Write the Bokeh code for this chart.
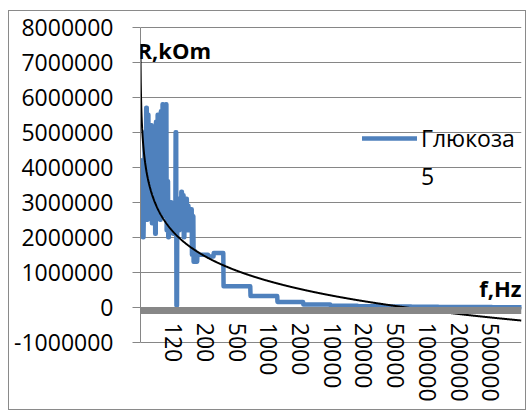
import numpy as np
from bokeh.plotting import figure
from bokeh.models import (Range1d, FixedTicker, NumeralTickFormatter, Label,
                          Legend, LegendItem, ColumnDataSource, LinearAxis)
from bokeh.embed import file_html
from bokeh.resources import INLINE

# ---------------- data ----------------
N_CATEGORIES = 1400          # number of measured frequencies (category axis)
noise_hold = 3               # each reading below covers 3 consecutive categories
noise_values = [             # R, low-frequency noisy part
    4.2e6, 2.4e6, 3.0e6, 2.0e6, 2.6e6, 5.0e6, 2.6e6,
    5.7e6, 2.5e6, 5.5e6, 2.6e6, 5.0e6,
    2.8e6, 5.2e6, 2.4e6, 4.8e6, 2.5e6, 5.0e6,
    2.1e6, 5.3e6, 2.6e6, 5.5e6, 2.8e6, 5.4e6,
    2.5e6, 5.6e6, 2.7e6, 5.8e6, 2.9e6, 5.7e6, 2.6e6,
    5.8e6, 2.2e6, 3.6e6, 2.0e6, 3.0e6, 2.3e6,
    3.0e6, 2.2e6, 2.8e6, 2.1e6, 2.6e6, 2.4e6,
    5.0e6, 0.05e6, 2.6e6,
    3.1e6, 2.2e6, 2.9e6, 2.4e6, 3.3e6, 2.3e6, 3.2e6, 2.0e6, 3.0e6,
    2.5e6, 3.1e6, 2.2e6, 2.9e6, 2.4e6, 2.7e6,
    2.2e6, 2.8e6, 1.5e6, 2.6e6, 1.3e6, 1.6e6,
]
step_levels = [1.30e6, 1.50e6, 1.45e6, 1.55e6, 0.60e6, 0.32e6, 0.15e6, 0.08e6,
               0.045e6, 0.03e6, 0.02e6, 0.012e6, 0.008e6, 0.005e6, 0.003e6]
step_counts = [8, 40, 20, 36, 99, 99, 95, 100, 99, 99, 99, 99, 99, 99, 108]

freq_labels = ["120", "200", "500", "1000", "2000", "10000", "20000",
               "50000", "100000", "200000", "500000"]
label_categories = [122, 238, 355, 471, 588, 704, 820, 937, 1053, 1170, 1286]

y_ticks = [-1000000, 0, 1000000, 2000000, 3000000, 4000000,
           5000000, 6000000, 7000000, 8000000]
series_name = "Глюкоза 5"
y_title = "R,kOm"
x_title = "f,Hz"

# ---------------- build series ----------------
y = np.concatenate([np.repeat(noise_values, noise_hold),
                    np.repeat(step_levels, step_counts)])
idx = np.arange(1, len(y) + 1)
x = idx - 1
# logarithmic trendline (least squares on ln of category number, as Excel does)
a, b = np.polyfit(np.log(idx), y, 1)
trend = a * np.log(idx) + b

FONT = "Open Sans"
GRID = "#868686"
Y0, Y1 = -2.979e6, 8.05e6
FRAME_H = 386

p = figure(width=518, height=400, output_backend="svg", toolbar_location=None,
           x_range=Range1d(0, N_CATEGORIES - 1), y_range=Range1d(Y0, Y1),
           x_axis_location=None,
           min_border_left=131, min_border_right=6, min_border_top=14, min_border_bottom=0)
p.styles = {"border": "1px solid #8a8a8a", "margin-left": "8px", "margin-top": "10px"}
p.outline_line_color = None
p.background_fill_color = "white"
p.border_fill_color = "white"

yax = p.yaxis[0]
yax.ticker = FixedTicker(ticks=y_ticks)
yax.bounds = (y_ticks[0], y_ticks[-1])
yax.formatter = NumeralTickFormatter(format="0")
yax.axis_line_color = GRID
yax.major_tick_line_color = GRID
yax.major_tick_out = 8
yax.major_tick_in = 0
yax.minor_tick_line_color = None
yax.major_label_standoff = 19
yax.major_label_text_font = FONT
yax.major_label_text_font_size = "23px"
yax.major_label_text_color = "#000000"

p.ygrid.grid_line_color = GRID
p.ygrid.grid_line_width = 1.2
p.xgrid.visible = False

# horizontal category axis: thick grey line drawn on the outer side of 0
band_w = 7
px_per_unit = FRAME_H / (Y1 - Y0)
xax = LinearAxis(fixed_location=0 - (band_w / 2) / px_per_unit,
                 ticker=FixedTicker(ticks=label_categories),
                 major_label_overrides={c: t for c, t in zip(label_categories, freq_labels)},
                 axis_line_color="#878787", axis_line_width=band_w,
                 major_tick_line_color=None, minor_tick_line_color=None,
                 major_tick_in=0, major_tick_out=0,
                 major_label_orientation="vertical", major_label_standoff=12,
                 major_label_text_font=FONT, major_label_text_font_size="23px",
                 major_label_text_color="#000000")
p.add_layout(xax, "below")

src = ColumnDataSource(dict(x=x, y=y, trend=trend))
blue = p.line("x", "y", source=src, line_color="#4F81BD", line_width=4.5,
              line_join="round", line_cap="round")
p.line("x", "trend", source=src, line_color="black", line_width=2)

p.add_layout(Label(x=0, y=7.36e6, x_offset=-3, text=y_title, text_font=FONT,
                   text_font_style="bold", text_font_size="22px",
                   text_baseline="middle", text_color="#000000"))
p.add_layout(Label(x=N_CATEGORIES - 1, y=0.54e6, text=x_title, text_font=FONT,
                   text_font_style="bold", text_font_size="22px", text_align="right",
                   text_baseline="middle", text_color="#000000"))

# legend: the series name wraps onto a second line (as in the narrow Excel legend)
name_lines = series_name.split(" ")
legend_items = [LegendItem(label=name_lines[0], renderers=[blue])] + \
               [LegendItem(label=t, renderers=[]) for t in name_lines[1:]]
legend = Legend(items=legend_items,
                location=(222, 219), padding=0, margin=0, spacing=6,
                border_line_color=None, background_fill_alpha=0,
                glyph_width=55, glyph_height=20,
                label_standoff=4, label_text_font=FONT, label_text_font_size="23px",
                label_text_color="#000000")
p.add_layout(legend)

open("out.html", "w").write(file_html(p, INLINE))
